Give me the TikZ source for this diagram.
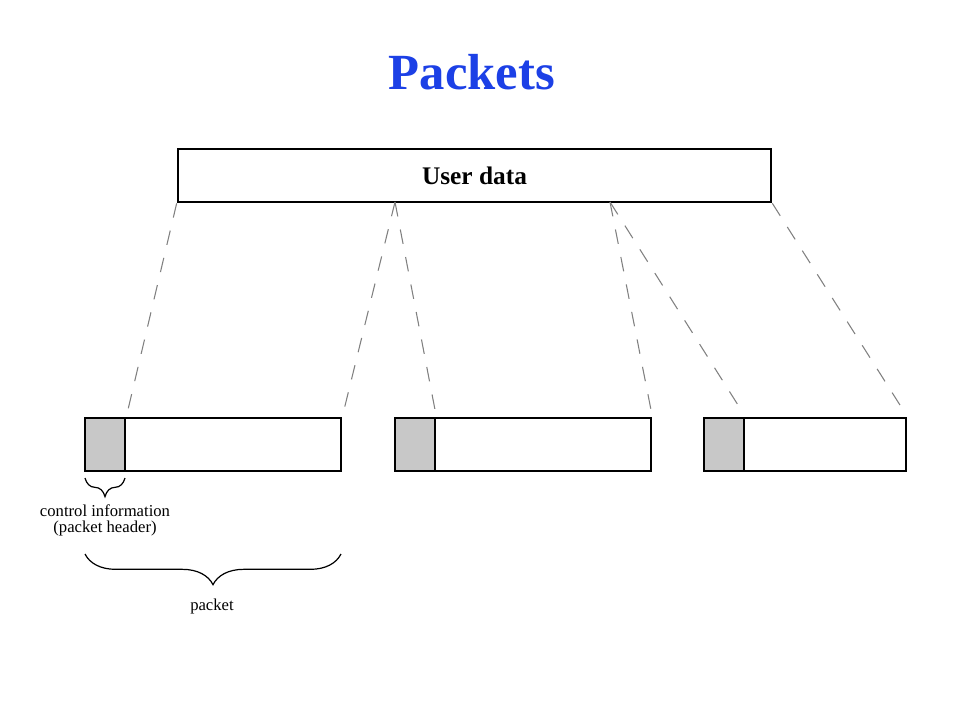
\documentclass[tikz,border=0pt]{standalone}
\usepackage{fontspec}
\setmainfont{Liberation Serif}
\usepackage{xcolor}
\usetikzlibrary{positioning,calc,decorations.pathreplacing}
\definecolor{titleblue}{RGB}{28,64,230}
\definecolor{hdrgray}{RGB}{200,200,200}

\begin{document}
\begin{tikzpicture}[x=0.75pt, y=-0.75pt,
    block/.style={draw, line width=2pt, inner sep=0pt, minimum height=39.75pt},
    hdr/.style={block, fill=hdrgray, minimum width=30pt},
    split/.style={gray, line width=0.8pt, dash pattern=on 11pt off 10pt, shorten >=2pt},
    bracket/.style={decorate, line width=0.9pt},
    label/.style={font=\fontsize{12.5}{14}\selectfont, align=center}]
    \useasboundingbox (0,0) rectangle (960,720);

    % Title
    \node [font=\fontsize{38}{40}\selectfont\bfseries, text=titleblue] (title) at (472,72) {Packets};

    % User data
    \node [block, minimum width=444.75pt, font=\fontsize{19}{20}\selectfont\bfseries] (user) at (474.5,175.5) {User data};
    \coordinate (cut1) at (395,202);
    \coordinate (cut2) at (610,202);

    % Packets
    \node [block, minimum width=192pt] (pkt1) at (213,444.5) {};
    \node [hdr, anchor=west] (hdr1) at (pkt1.west) {};
    \node [block, minimum width=192pt] (pkt2) at (523,444.5) {};
    \node [hdr, anchor=west] (hdr2) at (pkt2.west) {};
    \node [block, minimum width=151.5pt] (pkt3) at (805,444.5) {};
    \node [hdr, anchor=west] (hdr3) at (pkt3.west) {};

    % Pieces of the user data
    \draw [split] (user.south west) -- (hdr1.north east);
    \draw [split] (cut1) -- (pkt1.north east);
    \draw [split] (cut1) -- (hdr2.north east);
    \draw [split] (cut2) -- (pkt2.north east);
    \draw [split] (cut2) -- (hdr3.north east);
    \draw [split] (user.south east) -- (pkt3.north east);

    % Braces
    \draw [bracket, decoration={brace, mirror, amplitude=14pt}] (85,478) -- (125,478);
    \node [label] (ctrl) at (105,520) {control information\\[-2pt](packet header)};
    \draw [bracket, decoration={brace, mirror, amplitude=23pt}] (85,554) -- (341,554);
    \node [label] (packet) at (212,606) {packet};
\end{tikzpicture}
\end{document}
